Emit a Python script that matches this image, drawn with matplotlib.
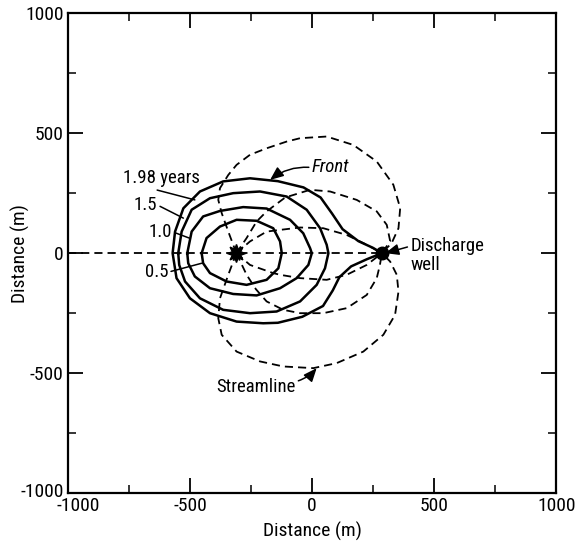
import matplotlib
matplotlib.use("Agg")
import matplotlib.pyplot as plt
from matplotlib.ticker import MultipleLocator
from matplotlib.transforms import ScaledTranslation

plt.rcParams['font.family'] = ['Roboto Condensed', 'Archivo Narrow', 'PT Sans Narrow', 'Open Sans Condensed',
                               'Liberation Sans', 'DejaVu Sans']

# ---- data (metres) ----
inj_well = (-310, 0)
dis_well = (286, 0)

front_05_x = [-452, -432, -377, -309, -227, -159, -131, -124, -138, -186, -268, -350, -418, -446, -452]
front_05_y = [0, 63, 111, 139, 135, 104, 49, 0, -63, -111, -132, -118, -83, -42, 0]

front_10_x = [-511, -493, -446, -377, -282, -186, -90, -36, -8, -1, -15, -63, -131, -227, -323, -418, -480, -507, -511]
front_10_y = [0, 90, 153, 176, 192, 186, 139, 83, 21, 0, -49, -104, -146, -176, -170, -146, -97, -42, 0]

front_15_x = [-548, -534, -493, -418, -323, -213, -104, -22, 33, 60, 67, 53, 19, -49, -145, -254, -364, -459, -520, -544, -548]
front_15_y = [0, 90, 181, 229, 250, 257, 236, 181, 104, 35, 0, -63, -132, -201, -243, -250, -236, -188, -118, -49, 0]

front_198_x = [286, 250, 190, 125, 82, 35, -35, -140, -254, -364, -459, -527, -561, -571,
               -555, -500, -418, -309, -200, -140, -40, 45, 85, 112, 160, 225, 286]
front_198_y = [0, 22, 50, 100, 165, 232, 274, 300, 312, 299, 257, 187, 90, 0,
               -104, -188, -250, -285, -292, -290, -265, -220, -155, -100, -55, -25, 0]

stream_up1_x = [-310, -343, -370, -384, -377, -343, -309, -254, -186, -104, -49, 60, 169, 265, 333, 361, 354, 326, 286]
stream_up1_y = [0, 90, 167, 222, 271, 326, 368, 410, 437, 465, 479, 486, 451, 382, 285, 188, 104, 42, 0]

stream_up2_x = [-310, -268, -227, -186, -110, -8, 74, 183, 265, 306, 320, 286]
stream_up2_y = [0, 63, 132, 174, 232, 264, 257, 222, 174, 118, 50, 0]

stream_up3_x = [-310, -254, -186, -131, -49, 46, 142, 224, 286]
stream_up3_y = [0, 49, 90, 97, 107, 104, 76, 35, 0]

stream_axis_x = [-1000, 286]
stream_axis_y = [0, 0]

stream_lo3_x = [-310, -254, -159, -131, -49, 60, 142, 224, 286]
stream_lo3_y = [0, -49, -83, -90, -104, -111, -90, -49, 0]

stream_lo2_x = [-310, -268, -230, -186, -118, -49, 46, 142, 224, 265, 278, 286]
stream_lo2_y = [0, -90, -150, -201, -236, -250, -250, -229, -174, -104, -49, 0]

stream_lo1_x = [-310, -343, -377, -384, -370, -309, -213, -118, 5, 101, 210, 292, 340, 354, 347, 320, 286]
stream_lo1_y = [0, -90, -188, -271, -340, -410, -451, -472, -479, -458, -410, -340, -257, -160, -90, -35, 0]

ticks = [-1000, -500, 0, 500, 1000]
tick_labels = ['-1000', '-500', '0', '500', '1000']

# ---- figure ----
fig = plt.figure(figsize=(5.8, 5.48), dpi=100)
ax = fig.add_axes([0.117, 0.100, 0.842, 0.876])
ax.set_xlim(-1000, 1000)
ax.set_ylim(-1000, 1000)

dash = dict(color='black', lw=1.3, linestyle=(0, (4.5, 2.8)))
for xs, ys in [(stream_up1_x, stream_up1_y), (stream_up2_x, stream_up2_y), (stream_up3_x, stream_up3_y),
               (stream_axis_x, stream_axis_y), (stream_lo3_x, stream_lo3_y), (stream_lo2_x, stream_lo2_y),
               (stream_lo1_x, stream_lo1_y)]:
    ax.plot(xs, ys, **dash)

solid = dict(color='black', lw=1.8, solid_joinstyle='round')
for xs, ys in [(front_05_x, front_05_y), (front_10_x, front_10_y), (front_15_x, front_15_y), (front_198_x, front_198_y)]:
    ax.plot(xs, ys, **solid)

ax.plot(*inj_well, marker=(8, 1, 0), ms=13, color='black')
ax.plot(*inj_well, marker='o', ms=6, color='black')
ax.plot(*dis_well, marker='o', ms=9, color='black')

fs = 13.5
lead = dict(arrowstyle='-', color='black', lw=1.1, shrinkA=0, shrinkB=0)
ax.annotate('1.98 years', xy=(-480, 222), xytext=(-615, 312), fontsize=fs, ha='center', va='center',
            arrowprops=dict(lead, relpos=(0.3, 0.0)))
ax.annotate('1.5', xy=(-527, 146), xytext=(-682, 201), fontsize=fs, ha='center', va='center',
            arrowprops=dict(lead, relpos=(1.0, 0.5)))
ax.annotate('1.0', xy=(-503, 63), xytext=(-622, 90), fontsize=fs, ha='center', va='center',
            arrowprops=dict(lead, relpos=(1.0, 0.5)))
ax.annotate('0.5', xy=(-452, -42), xytext=(-637, -79), fontsize=fs, ha='center', va='center',
            arrowprops=dict(lead, relpos=(1.0, 0.5)))

arr = dict(arrowstyle='-|>,head_length=0.6,head_width=0.25', color='black', lw=1.1, shrinkA=0, shrinkB=0)
ax.annotate('Front', xy=(-172, 305), xytext=(75, 357), fontsize=fs, ha='center', va='center', style='italic',
            arrowprops=dict(arr, relpos=(0.0, 0.5), connectionstyle='arc3,rad=0.2'))
ax.annotate('Streamline', xy=(19, -479), xytext=(-230, -558), fontsize=fs, ha='center', va='center',
            arrowprops=dict(arr, relpos=(1.0, 0.8), connectionstyle='arc3,rad=0.15'))
ax.annotate('Discharge\nwell', xy=(300, 0), xytext=(402, -10), fontsize=fs, ha='left', va='center',
            linespacing=1.1,
            arrowprops=dict(arr, relpos=(0.0, 0.75)))

ax.set_xticks(ticks)
ax.set_xticklabels(tick_labels)
ax.set_yticks(ticks)
ax.set_yticklabels(tick_labels)
ax.xaxis.set_minor_locator(MultipleLocator(250))
ax.yaxis.set_minor_locator(MultipleLocator(250))
ax.tick_params(which='major', direction='in', length=11, width=1.3, top=True, right=True, labelsize=14, pad=3)
ax.tick_params(which='minor', direction='in', length=6, width=1.1, top=True, right=True)
for s in ax.spines.values():
    s.set_linewidth(1.6)

# shift corner labels apart as in the reference
xl = ax.get_xticklabels()
xl[0].set_transform(xl[0].get_transform() + ScaledTranslation(10 / 100, 0, fig.dpi_scale_trans))
yl = ax.get_yticklabels()
yl[0].set_transform(yl[0].get_transform() + ScaledTranslation(0, 3 / 100, fig.dpi_scale_trans))

ax.set_xlabel('Distance (m)', fontsize=14, labelpad=5)
ax.set_ylabel('Distance (m)', fontsize=14)
ax.yaxis.set_label_coords(-0.078, 0.5)

fig.savefig('out.png', dpi=100)
